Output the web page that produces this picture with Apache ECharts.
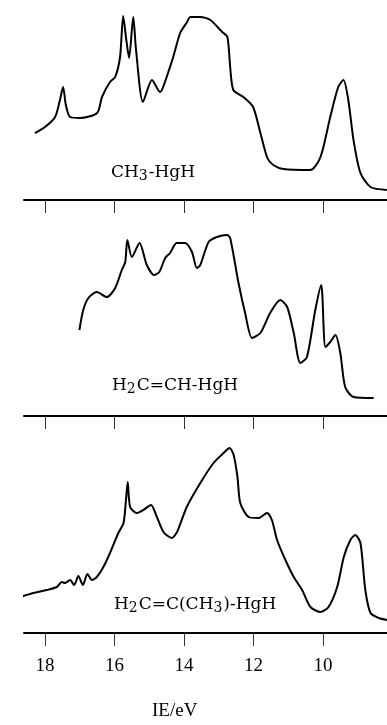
<!DOCTYPE html>
<html lang="en">
<head>
    <meta charset="UTF-8">
    <title>PE spectra</title>
    <script src="https://cdn.jsdelivr.net/npm/echarts@6/dist/echarts.min.js"></script>
    <style>
        html, body {margin: 0; padding: 0; background: #fff;}
    </style>
</head>
<body>
<div style="width:387px;height:725px" id="picture"></div>
<script>
    // ionisation energies (eV) and relative intensities
    var ie1 = [18.29, 18.0, 17.71, 17.57, 17.48, 17.40, 17.28, 16.99, 16.50, 16.36, 16.13, 15.98, 15.84, 15.75, 15.66, 15.58, 15.46, 15.38, 15.18, 14.92, 14.69, 14.60, 14.31, 14.11, 13.91, 13.82, 13.53, 13.24, 12.90, 12.75, 12.67, 12.58, 12.29, 12.01, 11.80, 11.60, 11.43, 11.14, 10.36, 10.07, 9.79, 9.56, 9.41, 9.27, 9.12, 8.92, 8.63, 8.16];
    var int1 = [67, 73, 83, 100, 113, 95, 83, 82, 87, 103, 118, 123, 143, 184, 160, 142, 183, 150, 98, 120, 108, 113, 143, 167, 178, 183, 183, 180, 168, 163, 133, 110, 103, 93, 67, 42, 35, 31, 30, 43, 83, 113, 120, 100, 60, 27, 13, 10];

    var ie2 = [17.01, 16.90, 16.75, 16.51, 16.22, 15.98, 15.79, 15.69, 15.63, 15.50, 15.28, 15.07, 14.86, 14.71, 14.54, 14.40, 14.21, 13.97, 13.77, 13.63, 13.53, 13.29, 13.05, 12.76, 12.67, 12.43, 12.24, 12.04, 11.80, 11.52, 11.23, 11.03, 10.84, 10.65, 10.46, 10.22, 10.05, 9.93, 9.79, 9.64, 9.50, 9.36, 9.12, 8.54];
    var int2 = [86, 106, 118, 124, 119, 128, 146, 154, 176, 159, 173, 151, 141, 144, 158, 163, 173, 173, 164, 148, 151, 174, 179, 181, 178, 133, 103, 78, 83, 103, 116, 109, 83, 53, 59, 106, 131, 69, 74, 81, 63, 29, 19, 18];

    var ie3 = [19.03, 18.72, 18.34, 17.95, 17.66, 17.52, 17.42, 17.28, 17.16, 17.04, 16.91, 16.78, 16.65, 16.51, 16.32, 16.13, 15.89, 15.74, 15.67, 15.62, 15.55, 15.36, 15.17, 14.95, 14.78, 14.59, 14.35, 14.20, 13.92, 13.53, 13.15, 12.86, 12.69, 12.57, 12.46, 12.38, 12.14, 11.85, 11.61, 11.47, 11.32, 11.08, 10.84, 10.60, 10.36, 10.07, 9.84, 9.59, 9.40, 9.21, 9.07, 8.92, 8.78, 8.63, 8.39, 8.15];
    var int3 = [34, 36, 40, 43, 46, 51, 50, 53, 48, 57, 48, 59, 53, 56, 66, 80, 100, 110, 133, 151, 126, 120, 123, 128, 116, 101, 95, 101, 126, 150, 170, 180, 185, 178, 156, 130, 116, 115, 120, 113, 93, 73, 56, 43, 26, 21, 26, 46, 76, 93, 98, 90, 43, 20, 15, 13];

    var tickValues = [18, 16, 14, 12, 10];

    function pairs(xs, ys) {
        var out = [];
        for (var i = 0; i < xs.length; i++) {
            out.push([xs[i], ys[i]]);
        }
        return out;
    }

    var serif = '"Liberation Serif", "DejaVu Serif", serif';
    var labelFont = '"DejaVu Serif", serif';
    var grids = [
        {left: 24, right: 0, top: 0, height: 200},
        {left: 24, right: 0, top: 216, height: 200},
        {left: 24, right: 0, top: 433, height: 200}
    ];
    var xAxes = [];
    var yAxes = [];
    for (var g = 0; g < 3; g++) {
        xAxes.push({
            gridIndex: g,
            type: 'value',
            inverse: true,
            min: 8.156,
            max: 18.605,
            splitLine: {show: false},
            axisLine: {show: true, lineStyle: {color: '#000', width: 2}},
            axisTick: {show: true, customValues: tickValues, length: 13, lineStyle: {color: '#333', width: 1}},
            axisLabel: {
                show: g === 2,
                customValues: tickValues,
                margin: 24,
                fontSize: 19,
                color: '#000',
                fontFamily: serif
            }
        });
        yAxes.push({gridIndex: g, type: 'value', min: 0, max: 200, show: false});
    }

    function lineSeries(idx, data) {
        return {
            type: 'line',
            xAxisIndex: idx,
            yAxisIndex: idx,
            data: data,
            showSymbol: false,
            smooth: 0.25,
            clip: false,
            lineStyle: {color: '#000', width: 2}
        };
    }

    var rich = {
        a: {fontSize: 17, fontFamily: labelFont, color: '#000'},
        b: {fontSize: 14, fontFamily: labelFont, color: '#000', padding: [7, 1, 0, 0]}
    };

    var myChart = echarts.init(document.getElementById('picture'));
    var option = {
        animation: false,
        grid: grids,
        xAxis: xAxes,
        yAxis: yAxes,
        series: [
            lineSeries(0, pairs(ie1, int1)),
            lineSeries(1, pairs(ie2, int2)),
            lineSeries(2, pairs(ie3, int3))
        ],
        graphic: [
            {type: 'text', left: 111, top: 164, style: {text: '{a|CH}{b|3}{a|-HgH}', rich: rich}},
            {type: 'text', left: 112, top: 377, style: {text: '{a|H}{b|2}{a|C=CH-HgH}', rich: rich}},
            {type: 'text', left: 114, top: 596, style: {text: '{a|H}{b|2}{a|C=C(CH}{b|3}{a|)-HgH}', rich: rich}},
            {type: 'text', left: 152, top: 702, style: {text: 'IE/eV', font: '19px ' + serif, fill: '#000'}}
        ]
    };
    myChart.setOption(option);
</script>
</body>
</html>
